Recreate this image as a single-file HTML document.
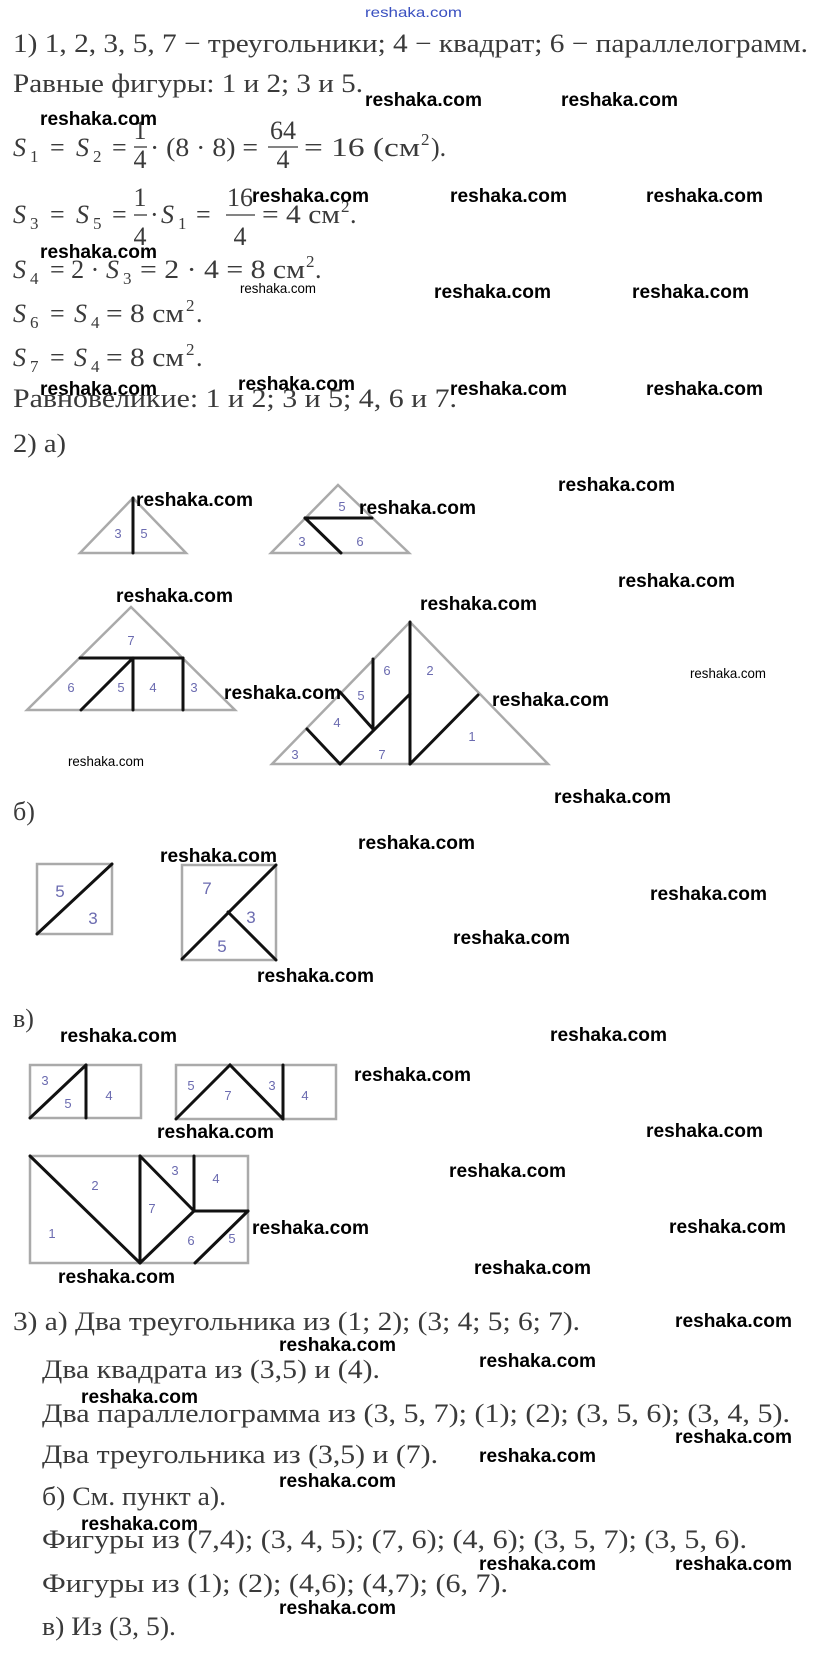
<!DOCTYPE html>
<html><head><meta charset="utf-8"><style>
html,body{margin:0;padding:0;background:#fff;}
svg{display:block;}
.t{font-family:"Liberation Serif","Noto Serif CJK SC",serif;font-size:26px;fill:#3a3a3a;}
.i{font-style:italic;}
.sub{font-size:17px;}
.w{font-family:"Liberation Sans",sans-serif;font-weight:bold;font-size:19px;fill:#000;}
.ws{font-family:"Liberation Sans",sans-serif;font-size:14px;fill:#000;}
.o{fill:none;stroke:#aaa;stroke-width:2.5;}
.b{fill:none;stroke:#111;stroke-width:3;stroke-linecap:round;}
.l{font-family:"Liberation Sans",sans-serif;font-size:13px;fill:#6b6bb0;text-anchor:middle;}
.lb{font-family:"Liberation Sans",sans-serif;font-size:17px;fill:#6b6bb0;text-anchor:middle;}
</style></head><body>
<svg width="824" height="1655" viewBox="0 0 824 1655" xmlns="http://www.w3.org/2000/svg">
<text x="365" y="17" style="font-family:'Liberation Sans',sans-serif;font-size:14px;fill:#3a50c0" textLength="97" lengthAdjust="spacingAndGlyphs">reshaka.com</text>

<text class="t" x="13" y="52" textLength="795" lengthAdjust="spacingAndGlyphs">1) 1, 2, 3, 5, 7 − треугольники;  4 − квадрат;  6 − параллелограмм.</text>
<text class="t" x="13" y="92" textLength="350" lengthAdjust="spacingAndGlyphs">Равные фигуры:  1 и 2;  3 и 5.</text>

<!-- S1 line -->
<text class="t i" x="13" y="156">S</text><text class="t sub" x="30" y="162">1</text>
<text class="t" x="50" y="156">=</text>
<text class="t i" x="76" y="156">S</text><text class="t sub" x="93" y="162">2</text>
<text class="t" x="112" y="156">=</text>
<text class="t" x="140" y="139" text-anchor="middle">1</text><line x1="134" y1="147" x2="147" y2="147" stroke="#3a3a3a" stroke-width="1.3"/><text class="t" x="140" y="168" text-anchor="middle">4</text>
<text class="t" x="150" y="156" textLength="108" lengthAdjust="spacingAndGlyphs">· (8 · 8) =</text>
<text class="t" x="283" y="139" text-anchor="middle">64</text><line x1="268" y1="147" x2="298" y2="147" stroke="#3a3a3a" stroke-width="1.3"/><text class="t" x="283" y="168" text-anchor="middle">4</text>
<text class="t" x="304" y="156" textLength="116" lengthAdjust="spacingAndGlyphs">= 16 (см</text><text class="t sub" x="421" y="145">2</text><text class="t" x="431" y="156">).</text>

<!-- S3 line -->
<text class="t i" x="13" y="223">S</text><text class="t sub" x="30" y="229">3</text>
<text class="t" x="50" y="223">=</text>
<text class="t i" x="76" y="223">S</text><text class="t sub" x="93" y="229">5</text>
<text class="t" x="112" y="223">=</text>
<text class="t" x="140" y="206" text-anchor="middle">1</text><line x1="134" y1="215" x2="147" y2="215" stroke="#3a3a3a" stroke-width="1.3"/><text class="t" x="140" y="245" text-anchor="middle">4</text>
<text class="t" x="150" y="223">·</text><text class="t i" x="161" y="223">S</text><text class="t sub" x="178" y="229">1</text>
<text class="t" x="196" y="223">=</text>
<text class="t" x="240" y="206" text-anchor="middle">16</text><line x1="226" y1="215" x2="255" y2="215" stroke="#3a3a3a" stroke-width="1.3"/><text class="t" x="240" y="245" text-anchor="middle">4</text>
<text class="t" x="262" y="223" textLength="78" lengthAdjust="spacingAndGlyphs">= 4 см</text><text class="t sub" x="341" y="212">2</text><text class="t" x="350" y="223">.</text>

<!-- S4 -->
<text class="t i" x="13" y="278">S</text><text class="t sub" x="30" y="284">4</text>
<text class="t" x="50" y="278">= 2 ·</text><text class="t i" x="106" y="278">S</text><text class="t sub" x="123" y="284">3</text>
<text class="t" x="140" y="278" textLength="165" lengthAdjust="spacingAndGlyphs">= 2 · 4 = 8 см</text><text class="t sub" x="306" y="267">2</text><text class="t" x="315" y="278">.</text>
<!-- S6 -->
<text class="t i" x="13" y="322">S</text><text class="t sub" x="30" y="328">6</text>
<text class="t" x="50" y="322">=</text><text class="t i" x="74" y="322">S</text><text class="t sub" x="91" y="328">4</text>
<text class="t" x="106" y="322" textLength="78" lengthAdjust="spacingAndGlyphs">= 8 см</text><text class="t sub" x="186" y="311">2</text><text class="t" x="196" y="322">.</text>
<!-- S7 -->
<text class="t i" x="13" y="366">S</text><text class="t sub" x="30" y="372">7</text>
<text class="t" x="50" y="366">=</text><text class="t i" x="74" y="366">S</text><text class="t sub" x="91" y="372">4</text>
<text class="t" x="106" y="366" textLength="78" lengthAdjust="spacingAndGlyphs">= 8 см</text><text class="t sub" x="186" y="355">2</text><text class="t" x="196" y="366">.</text>

<text class="t" x="13" y="407" textLength="444" lengthAdjust="spacingAndGlyphs">Равновеликие:  1 и 2;  3 и 5;  4, 6 и 7.</text>
<text class="t" x="13" y="452" textLength="53" lengthAdjust="spacingAndGlyphs">2) а)</text>

<!-- Tri A -->
<polygon class="o" points="80,553 133,498 186,553"/>
<line class="b" x1="133" y1="498" x2="133" y2="553"/>
<text class="l" x="118" y="538">3</text><text class="l" x="144" y="538">5</text>
<!-- Tri B -->
<polygon class="o" points="271,553 338,485 409,553"/>
<line class="b" x1="305" y1="518" x2="372" y2="518"/>
<line class="b" x1="305" y1="518" x2="341" y2="553"/>
<text class="l" x="342" y="511">5</text><text class="l" x="302" y="546">3</text><text class="l" x="360" y="546">6</text>
<!-- Tri C -->
<polygon class="o" points="27,710 131,607 235,710"/>
<line class="b" x1="80" y1="658" x2="183" y2="658"/>
<line class="b" x1="133" y1="658" x2="133" y2="710"/>
<line class="b" x1="183" y1="658" x2="183" y2="710"/>
<line class="b" x1="133" y1="658" x2="81" y2="710"/>
<text class="l" x="131" y="645">7</text><text class="l" x="71" y="692">6</text><text class="l" x="121" y="692">5</text><text class="l" x="153" y="692">4</text><text class="l" x="194" y="692">3</text>
<!-- Tri D -->
<polygon class="o" points="272,764 410,622 548,764"/>
<line class="b" x1="410" y1="622" x2="410" y2="764"/>
<line class="b" x1="410" y1="764" x2="478" y2="695"/>
<line class="b" x1="410" y1="694" x2="340" y2="764"/>
<line class="b" x1="307" y1="729" x2="340" y2="764"/>
<line class="b" x1="340" y1="692" x2="373" y2="729"/>
<line class="b" x1="373" y1="659" x2="373" y2="729"/>
<text class="l" x="387" y="675">6</text><text class="l" x="430" y="675">2</text><text class="l" x="361" y="700">5</text><text class="l" x="337" y="727">4</text><text class="l" x="472" y="741">1</text><text class="l" x="295" y="759">3</text><text class="l" x="382" y="759">7</text>

<text class="t" x="13" y="820">б)</text>
<!-- squares -->
<rect class="o" x="37" y="864" width="75" height="70"/>
<line class="b" x1="37" y1="934" x2="112" y2="864"/>
<text class="lb" x="60" y="897">5</text><text class="lb" x="93" y="924">3</text>
<rect class="o" x="182" y="865" width="94" height="95"/>
<line class="b" x1="182" y1="959" x2="276" y2="865"/>
<line class="b" x1="228" y1="912" x2="276" y2="960"/>
<text class="lb" x="207" y="894">7</text><text class="lb" x="251" y="923">3</text><text class="lb" x="222" y="952">5</text>

<text class="t" x="13" y="1027">в)</text>
<rect class="o" x="30" y="1065" width="111" height="53"/>
<line class="b" x1="30" y1="1118" x2="86" y2="1065"/>
<line class="b" x1="86" y1="1065" x2="86" y2="1118"/>
<text class="l" x="45" y="1085">3</text><text class="l" x="68" y="1108">5</text><text class="l" x="109" y="1100">4</text>
<rect class="o" x="176" y="1065" width="160" height="54"/>
<polyline class="b" points="176,1119 230,1065 283,1119"/>
<line class="b" x1="283" y1="1065" x2="283" y2="1119"/>
<text class="l" x="191" y="1090">5</text><text class="l" x="228" y="1100">7</text><text class="l" x="272" y="1090">3</text><text class="l" x="305" y="1100">4</text>
<rect class="o" x="30" y="1156" width="218" height="107"/>
<line class="b" x1="30" y1="1156" x2="140" y2="1263"/>
<line class="b" x1="140" y1="1156" x2="140" y2="1263"/>
<line class="b" x1="140" y1="1156" x2="194" y2="1211"/>
<line class="b" x1="194" y1="1156" x2="194" y2="1211"/>
<line class="b" x1="194" y1="1211" x2="248" y2="1211"/>
<line class="b" x1="194" y1="1211" x2="140" y2="1263"/>
<line class="b" x1="248" y1="1211" x2="195" y2="1263"/>
<text class="l" x="95" y="1190">2</text><text class="l" x="52" y="1238">1</text><text class="l" x="152" y="1213">7</text><text class="l" x="175" y="1175">3</text><text class="l" x="216" y="1183">4</text><text class="l" x="191" y="1245">6</text><text class="l" x="232" y="1243">5</text>

<text class="t" x="13" y="1330" textLength="567" lengthAdjust="spacingAndGlyphs">3) а) Два треугольника  из (1; 2);  (3; 4; 5; 6; 7).</text>
<text class="t" x="42" y="1378" textLength="338" lengthAdjust="spacingAndGlyphs">Два квадрата из  (3,5) и (4).</text>
<text class="t" x="42" y="1422" textLength="748" lengthAdjust="spacingAndGlyphs">Два параллелограмма из (3, 5, 7);  (1);  (2);  (3, 5, 6);  (3, 4, 5).</text>
<text class="t" x="42" y="1463" textLength="396" lengthAdjust="spacingAndGlyphs">Два треугольника из (3,5) и  (7).</text>
<text class="t" x="42" y="1505" textLength="184" lengthAdjust="spacingAndGlyphs">б) См. пункт а).</text>
<text class="t" x="42" y="1548" textLength="705" lengthAdjust="spacingAndGlyphs">Фигуры из (7,4);  (3, 4, 5);  (7, 6);  (4, 6);  (3, 5, 7);  (3, 5, 6).</text>
<text class="t" x="42" y="1592" textLength="466" lengthAdjust="spacingAndGlyphs">Фигуры из (1);  (2); (4,6); (4,7);  (6, 7).</text>
<text class="t" x="42" y="1635" textLength="134" lengthAdjust="spacingAndGlyphs">в) Из (3, 5).</text>

<!-- watermarks -->
<g class="w">
<text x="365" y="106" textLength="117" lengthAdjust="spacingAndGlyphs">reshaka.com</text>
<text x="561" y="106" textLength="117" lengthAdjust="spacingAndGlyphs">reshaka.com</text>
<text x="40" y="125" textLength="117" lengthAdjust="spacingAndGlyphs">reshaka.com</text>
<text x="252" y="202" textLength="117" lengthAdjust="spacingAndGlyphs">reshaka.com</text>
<text x="450" y="202" textLength="117" lengthAdjust="spacingAndGlyphs">reshaka.com</text>
<text x="646" y="202" textLength="117" lengthAdjust="spacingAndGlyphs">reshaka.com</text>
<text x="40" y="258" textLength="117" lengthAdjust="spacingAndGlyphs">reshaka.com</text>
<text x="434" y="298" textLength="117" lengthAdjust="spacingAndGlyphs">reshaka.com</text>
<text x="632" y="298" textLength="117" lengthAdjust="spacingAndGlyphs">reshaka.com</text>
<text x="40" y="395" textLength="117" lengthAdjust="spacingAndGlyphs">reshaka.com</text>
<text x="238" y="390" textLength="117" lengthAdjust="spacingAndGlyphs">reshaka.com</text>
<text x="450" y="395" textLength="117" lengthAdjust="spacingAndGlyphs">reshaka.com</text>
<text x="646" y="395" textLength="117" lengthAdjust="spacingAndGlyphs">reshaka.com</text>
<text x="136" y="506" textLength="117" lengthAdjust="spacingAndGlyphs">reshaka.com</text>
<text x="359" y="514" textLength="117" lengthAdjust="spacingAndGlyphs">reshaka.com</text>
<text x="558" y="491" textLength="117" lengthAdjust="spacingAndGlyphs">reshaka.com</text>
<text x="116" y="602" textLength="117" lengthAdjust="spacingAndGlyphs">reshaka.com</text>
<text x="420" y="610" textLength="117" lengthAdjust="spacingAndGlyphs">reshaka.com</text>
<text x="618" y="587" textLength="117" lengthAdjust="spacingAndGlyphs">reshaka.com</text>
<text x="224" y="699" textLength="117" lengthAdjust="spacingAndGlyphs">reshaka.com</text>
<text x="492" y="706" textLength="117" lengthAdjust="spacingAndGlyphs">reshaka.com</text>
<text x="554" y="803" textLength="117" lengthAdjust="spacingAndGlyphs">reshaka.com</text>
<text x="358" y="849" textLength="117" lengthAdjust="spacingAndGlyphs">reshaka.com</text>
<text x="160" y="862" textLength="117" lengthAdjust="spacingAndGlyphs">reshaka.com</text>
<text x="650" y="900" textLength="117" lengthAdjust="spacingAndGlyphs">reshaka.com</text>
<text x="453" y="944" textLength="117" lengthAdjust="spacingAndGlyphs">reshaka.com</text>
<text x="257" y="982" textLength="117" lengthAdjust="spacingAndGlyphs">reshaka.com</text>
<text x="60" y="1042" textLength="117" lengthAdjust="spacingAndGlyphs">reshaka.com</text>
<text x="550" y="1041" textLength="117" lengthAdjust="spacingAndGlyphs">reshaka.com</text>
<text x="354" y="1081" textLength="117" lengthAdjust="spacingAndGlyphs">reshaka.com</text>
<text x="157" y="1138" textLength="117" lengthAdjust="spacingAndGlyphs">reshaka.com</text>
<text x="646" y="1137" textLength="117" lengthAdjust="spacingAndGlyphs">reshaka.com</text>
<text x="449" y="1177" textLength="117" lengthAdjust="spacingAndGlyphs">reshaka.com</text>
<text x="252" y="1234" textLength="117" lengthAdjust="spacingAndGlyphs">reshaka.com</text>
<text x="669" y="1233" textLength="117" lengthAdjust="spacingAndGlyphs">reshaka.com</text>
<text x="474" y="1274" textLength="117" lengthAdjust="spacingAndGlyphs">reshaka.com</text>
<text x="58" y="1283" textLength="117" lengthAdjust="spacingAndGlyphs">reshaka.com</text>
<text x="675" y="1327" textLength="117" lengthAdjust="spacingAndGlyphs">reshaka.com</text>
<text x="279" y="1351" textLength="117" lengthAdjust="spacingAndGlyphs">reshaka.com</text>
<text x="479" y="1367" textLength="117" lengthAdjust="spacingAndGlyphs">reshaka.com</text>
<text x="81" y="1403" textLength="117" lengthAdjust="spacingAndGlyphs">reshaka.com</text>
<text x="675" y="1443" textLength="117" lengthAdjust="spacingAndGlyphs">reshaka.com</text>
<text x="479" y="1462" textLength="117" lengthAdjust="spacingAndGlyphs">reshaka.com</text>
<text x="279" y="1487" textLength="117" lengthAdjust="spacingAndGlyphs">reshaka.com</text>
<text x="81" y="1530" textLength="117" lengthAdjust="spacingAndGlyphs">reshaka.com</text>
<text x="479" y="1570" textLength="117" lengthAdjust="spacingAndGlyphs">reshaka.com</text>
<text x="675" y="1570" textLength="117" lengthAdjust="spacingAndGlyphs">reshaka.com</text>
<text x="279" y="1614" textLength="117" lengthAdjust="spacingAndGlyphs">reshaka.com</text>
</g>
<g class="ws">
<text x="240" y="293" textLength="76" lengthAdjust="spacingAndGlyphs">reshaka.com</text>
<text x="690" y="678" textLength="76" lengthAdjust="spacingAndGlyphs">reshaka.com</text>
<text x="68" y="766" textLength="76" lengthAdjust="spacingAndGlyphs">reshaka.com</text>
</g>
</svg>
</body></html>
